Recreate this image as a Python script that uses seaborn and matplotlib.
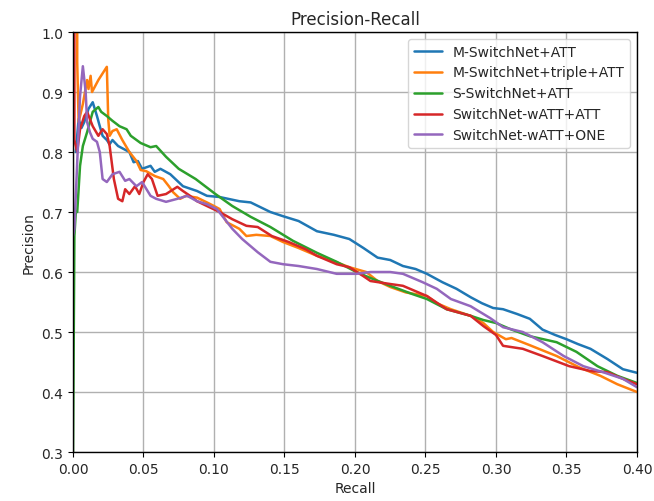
import numpy as np
import pandas as pd
import matplotlib
matplotlib.use("Agg")
import matplotlib.pyplot as plt
import seaborn as sns

labels = ["M-SwitchNet+ATT", "M-SwitchNet+triple+ATT", "S-SwitchNet+ATT",
          "SwitchNet-wATT+ATT", "SwitchNet-wATT+ONE"]

blue_r = [0.002, 0.004, 0.006, 0.008, 0.011, 0.014, 0.017, 0.019, 0.021, 0.024, 0.026, 0.028, 0.032,
          0.036, 0.040, 0.043, 0.046, 0.049, 0.055, 0.058, 0.062,
          0.069, 0.078, 0.088, 0.095, 0.104, 0.118, 0.126, 0.133, 0.140, 0.149, 0.160, 0.173, 0.185,
          0.196, 0.206, 0.216, 0.225, 0.234, 0.243, 0.251, 0.262, 0.272, 0.282, 0.290, 0.298, 0.305,
          0.315, 0.324, 0.333, 0.342, 0.350, 0.358, 0.367, 0.379, 0.390, 0.400]
blue_p = [0.80, 0.855, 0.84, 0.85, 0.872, 0.883, 0.86, 0.843, 0.827, 0.82, 0.813, 0.82, 0.81,
          0.805, 0.80, 0.783, 0.785, 0.772, 0.777, 0.767, 0.772,
          0.763, 0.743, 0.735, 0.727, 0.725, 0.718, 0.716, 0.708, 0.700, 0.693, 0.685, 0.668, 0.662,
          0.655, 0.640, 0.624, 0.620, 0.610, 0.605, 0.597, 0.583, 0.572, 0.558, 0.548, 0.540, 0.538,
          0.530, 0.522, 0.504, 0.495, 0.488, 0.480, 0.472, 0.455, 0.438, 0.432]

orange_r = [0.003, 0.003, 0.004, 0.007, 0.010, 0.011, 0.0125, 0.0135, 0.018, 0.024, 0.025, 0.026, 0.028,
            0.031, 0.035, 0.040, 0.045, 0.048, 0.052, 0.058, 0.064, 0.068, 0.071, 0.076, 0.080, 0.088,
            0.095, 0.100, 0.104, 0.109, 0.118, 0.123, 0.130, 0.140, 0.149, 0.160, 0.173, 0.185, 0.196,
            0.208, 0.216, 0.225, 0.236, 0.251, 0.258, 0.268, 0.282, 0.291, 0.298, 0.307, 0.311, 0.324,
            0.343, 0.360, 0.374, 0.386, 0.400]
orange_p = [1.00, 0.95, 0.85, 0.88, 0.92, 0.905, 0.927, 0.90, 0.92, 0.942, 0.855, 0.827, 0.835,
            0.838, 0.82, 0.80, 0.785, 0.770, 0.768, 0.760, 0.755, 0.743, 0.733, 0.722, 0.727, 0.724,
            0.716, 0.710, 0.705, 0.683, 0.672, 0.660, 0.662, 0.660, 0.650, 0.640, 0.627, 0.618, 0.608,
            0.600, 0.585, 0.575, 0.566, 0.560, 0.548, 0.538, 0.527, 0.515, 0.500, 0.488, 0.490, 0.478,
            0.460, 0.440, 0.427, 0.413, 0.400]

green_r = [0.000, 0.001, 0.002, 0.003, 0.005, 0.007, 0.010, 0.014, 0.018, 0.020, 0.024, 0.028, 0.033,
           0.038, 0.041, 0.048, 0.055, 0.059, 0.066, 0.075, 0.087, 0.101, 0.113, 0.126, 0.140, 0.156,
           0.173, 0.187, 0.201, 0.211, 0.225, 0.241, 0.251, 0.265, 0.282, 0.291, 0.300, 0.310, 0.324,
           0.343, 0.357, 0.372, 0.386, 0.400]
green_p = [0.30, 0.66, 0.70, 0.70, 0.777, 0.81, 0.833, 0.867, 0.875, 0.867, 0.86, 0.852, 0.843,
           0.838, 0.827, 0.815, 0.808, 0.81, 0.792, 0.772, 0.755, 0.73, 0.71, 0.692, 0.675, 0.652,
           0.632, 0.617, 0.600, 0.590, 0.577, 0.563, 0.555, 0.538, 0.527, 0.520, 0.515, 0.505, 0.493,
           0.483, 0.467, 0.443, 0.427, 0.415]

red_r = [0.001, 0.001, 0.003, 0.005, 0.008, 0.010, 0.014, 0.018, 0.021, 0.024, 0.026, 0.029, 0.032,
         0.035, 0.037, 0.040, 0.044, 0.047, 0.050, 0.053, 0.056, 0.060, 0.066, 0.074, 0.078, 0.083,
         0.088, 0.095, 0.104, 0.113, 0.123, 0.131, 0.141, 0.153, 0.165, 0.173, 0.187, 0.196, 0.206,
         0.211, 0.225, 0.234, 0.251, 0.265, 0.282, 0.291, 0.300, 0.305, 0.319, 0.333, 0.352, 0.367,
         0.379, 0.390, 0.400]
red_p = [1.00, 0.82, 0.80, 0.838, 0.86, 0.867, 0.843, 0.827, 0.838, 0.83, 0.81, 0.755, 0.722,
         0.718, 0.738, 0.730, 0.743, 0.73, 0.75, 0.763, 0.755, 0.727, 0.73, 0.742, 0.735, 0.727,
         0.718, 0.71, 0.70, 0.688, 0.677, 0.675, 0.66, 0.65, 0.638, 0.627, 0.613, 0.608, 0.593,
         0.585, 0.58, 0.577, 0.56, 0.538, 0.527, 0.51, 0.495, 0.477, 0.472, 0.46, 0.443, 0.435,
         0.433, 0.422, 0.413]

purple_r = [0.000, 0.001, 0.003, 0.005, 0.007, 0.009, 0.010, 0.012, 0.014, 0.017, 0.019, 0.021,
            0.024, 0.028, 0.033, 0.037, 0.040, 0.045, 0.049, 0.055, 0.059, 0.066, 0.074, 0.081,
            0.088, 0.095, 0.102, 0.106, 0.113, 0.120, 0.126, 0.131, 0.140, 0.149, 0.160, 0.173,
            0.187, 0.201, 0.211, 0.225, 0.234, 0.248, 0.258, 0.268, 0.282, 0.296, 0.305, 0.319,
            0.333, 0.348, 0.362, 0.376, 0.390, 0.400]
purple_p = [0.66, 0.672, 0.783, 0.893, 0.943, 0.90, 0.850, 0.833, 0.822, 0.817, 0.80, 0.755,
            0.75, 0.763, 0.767, 0.752, 0.755, 0.743, 0.75, 0.727, 0.722, 0.717, 0.722, 0.727,
            0.718, 0.713, 0.705, 0.693, 0.672, 0.655, 0.643, 0.633, 0.617, 0.613, 0.61, 0.605,
            0.597, 0.597, 0.60, 0.60, 0.597, 0.583, 0.572, 0.555, 0.543, 0.523, 0.508, 0.50,
            0.483, 0.46, 0.443, 0.433, 0.422, 0.408]

series = [(blue_r, blue_p), (orange_r, orange_p), (green_r, green_p), (red_r, red_p), (purple_r, purple_p)]
frames = []
for lab, (r, p) in zip(labels, series):
    frames.append(pd.DataFrame({"Recall": r, "Precision": p, "model": lab}))
df = pd.concat(frames, ignore_index=True)

sns.set_style("white")
plt.rcParams['font.family'] = ['DejaVu Sans']
fig = plt.figure(figsize=(6.54, 5.02), dpi=100)
ax = fig.add_axes([0.1116, 0.0976, 0.8624, 0.8366])
palette = ["#1f77b4", "#ff7f0e", "#2ca02c", "#d62728", "#9467bd"]
sns.lineplot(data=df, x="Recall", y="Precision", hue="model", hue_order=labels,
             palette=palette, sort=False, estimator=None, units="model", lw=1.8, ax=ax)
ax.set_xlim(0, 0.4)
ax.set_ylim(0.3, 1.0)
ax.set_xticks(np.arange(0, 0.401, 0.05))
ax.set_yticks(np.arange(0.3, 1.001, 0.1))
ax.grid(True, color="#b0b0b0", lw=1.0)
for s in ax.spines.values():
    s.set_color("black")
    s.set_linewidth(1.0)
ax.tick_params(axis="both", direction="out", length=3.5, width=0.8, labelsize=10, color="black", left=True, bottom=True)
ax.set_title("Precision-Recall", fontsize=12)
ax.set_xlabel("Recall", fontsize=10)
ax.set_ylabel("Precision", fontsize=10)
ax.legend(loc="upper right", fontsize=10, frameon=True)
fig.savefig("out.png", dpi=100)
